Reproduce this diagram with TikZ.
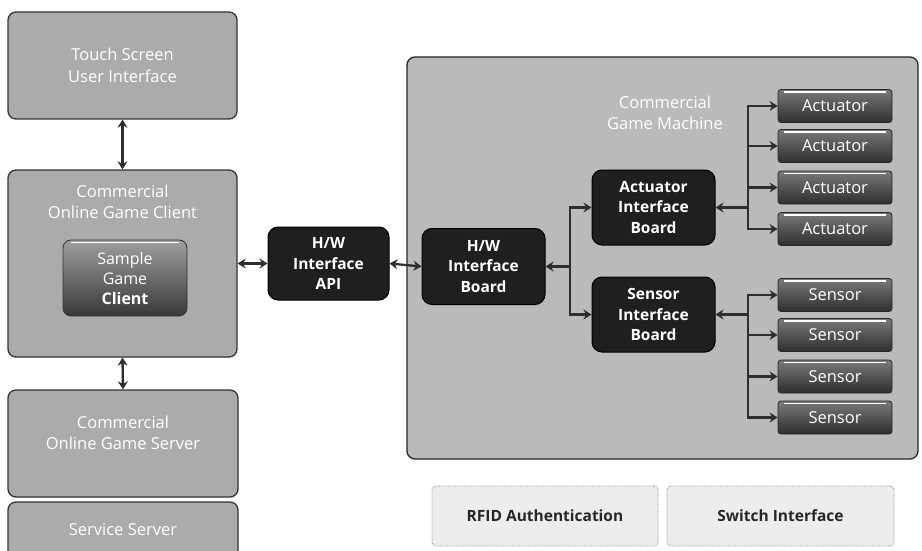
\documentclass[tikz,border=0pt]{standalone}
\usepackage{fontspec}
\setmainfont{Open Sans}
\usetikzlibrary{arrows.meta}
\begin{document}
\begin{tikzpicture}[x=1pt,y=-1pt,
  lightbox/.style={draw=black!80, line width=1.3pt, fill=black!33, rounded corners=8pt,
    text=white, font=\fontsize{16.5}{21.5}\selectfont, align=center, inner sep=0pt},
  lbl/.style={text=white, font=\fontsize{16.5}{21}\selectfont, align=center, inner sep=0pt},
  darkbox/.style={draw=black, line width=1pt, fill=black!88, rounded corners=10pt, text=white,
    font=\bfseries\fontsize{15.5}{20.5}\selectfont, align=center, minimum width=123pt, minimum height=76pt, inner sep=0pt},
  devbox/.style={draw=black!85, line width=0.8pt, top color=black!52, bottom color=black!82,
    minimum width=114pt, minimum height=33pt, rounded corners=3pt, text=white,
    font=\fontsize{16.5}{18}\selectfont, inner sep=0pt},
  hl/.style={draw=white, line width=1.6pt},
  plainbox/.style={draw=black!45, densely dotted, line width=0.8pt, fill=black!7, minimum width=226pt,
    minimum height=60pt, rounded corners=4pt, font=\bfseries\fontsize{15.5}{18}\selectfont, text=black!85, inner sep=0pt},
  conn/.style={draw=black!82, line width=2.3pt},
  biarrow/.style={conn, arrows={Stealth[length=8pt,width=10pt]-Stealth[length=8pt,width=10pt]}},
  toarrow/.style={conn, arrows={-Stealth[length=8pt,width=10pt]}},
  fromarrow/.style={conn, arrows={Stealth[length=8pt,width=10pt]-}}
]
\useasboundingbox (0,0) rectangle (922,551);
\clip (0,0) rectangle (922,551);

% left column
\node[lightbox, minimum width=229pt, minimum height=107pt] (touch) at (122.5,65.5) {Touch Screen\\User Interface};
\node[lightbox, minimum width=229pt, minimum height=187pt] (client) at (122.5,263.5) {};
\node[lbl] (clientlbl) at (122.5,202) {Commercial\\Online Game Client};
\node[draw=black!80, line width=0.8pt, top color=black!38, bottom color=black!78, rounded corners=8pt,
  minimum width=124pt, minimum height=76pt, inner sep=0pt, align=center, text=white,
  font=\fontsize{16}{20}\selectfont] (sample) at (125,278) {Sample\\Game\\\textbf{Client}};
\draw[hl] ([xshift=8pt,yshift=-3pt]sample.north west) -- ([xshift=-8pt,yshift=-3pt]sample.north east);
\node[lightbox, minimum width=230pt, minimum height=107pt] (server) at (123,443.5) {};
\node[lbl] (serverlbl) at (123,433) {Commercial\\Online Game Server};
\node[lightbox, minimum width=230pt, minimum height=66pt] (service) at (123,535) {};
\node[lbl] (servicelbl) at (123,530) {Service Server};

\draw[biarrow] (touch.south) -- (client.north);
\draw[biarrow] (client.south) -- (server.north);

% API
\node[darkbox, minimum width=121pt, minimum height=73pt] (api) at (328.5,263.5) {H/W\\Interface\\API};
\draw[biarrow] (client.east) -- (api.west);

% machine
\node[draw=black!85, line width=1.3pt, fill=black!27, rounded corners=8pt,
  minimum width=511pt, minimum height=402pt, inner sep=0pt] (machine) at (662.5,258) {};
\node[lbl, font=\fontsize{16.5}{21}\selectfont] (machinelbl) at (665,113) {Commercial\\Game Machine};

\node[darkbox] (board) at (483.5,266.5) {H/W\\Interface\\Board};
\draw[biarrow] (api.east) -- (board.west);

\node[darkbox, minimum height=75pt] (aib) at (653.5,207.5) {Actuator\\Interface\\Board};
\node[darkbox, minimum height=75pt] (sib) at (653.5,314.5) {Sensor\\Interface\\Board};

\coordinate (t1) at (570,266.5);
\draw[fromarrow] (board.east) -- (t1);
\draw[toarrow] (t1) |- (aib.west);
\draw[toarrow] (t1) |- (sib.west);

\foreach \i/\y in {1/106,2/146,3/187.5,4/229}{
  \node[devbox] (act\i) at (835,\y) {Actuator};
  \draw[hl] ([xshift=6pt,yshift=-3pt]act\i.north west) -- ([xshift=-6pt,yshift=-3pt]act\i.north east);
}
\foreach \i/\y in {1/295,2/335,3/376.5,4/417.5}{
  \node[devbox] (sen\i) at (835,\y) {Sensor};
  \draw[hl] ([xshift=6pt,yshift=-3pt]sen\i.north west) -- ([xshift=-6pt,yshift=-3pt]sen\i.north east);
}

\coordinate (t2) at (748,207.5);
\coordinate (t3) at (748,314.5);
\draw[fromarrow] (aib.east) -- (t2);
\draw[fromarrow] (sib.east) -- (t3);
\foreach \i in {1,...,4}{
  \draw[toarrow] (t2) |- (act\i.west);
  \draw[toarrow] (t3) |- (sen\i.west);
}

% bottom boxes
\node[plainbox] (rfid) at (545,516) {RFID Authentication};
\node[plainbox, minimum width=227pt] (switch) at (780.5,516) {Switch Interface};
\end{tikzpicture}
\end{document}
